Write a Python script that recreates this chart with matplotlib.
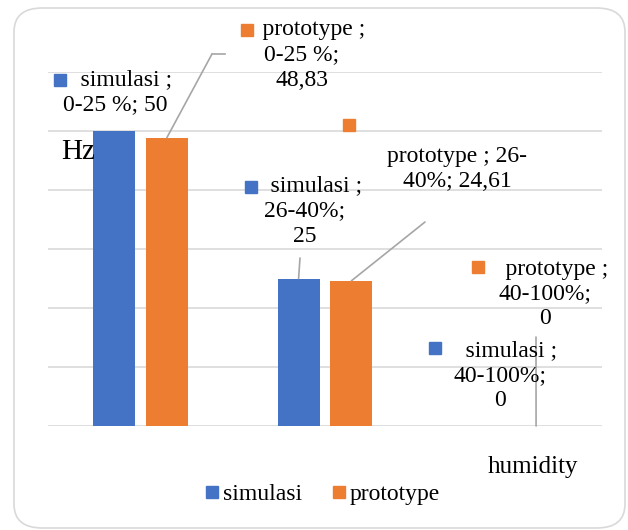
import matplotlib
matplotlib.use('Agg')
import matplotlib.pyplot as plt
from matplotlib.patches import Rectangle, FancyBboxPatch
from matplotlib.lines import Line2D
import numpy as np

categories = ['0-25 %', '26-40%', '40-100%']
simulasi = [50, 25, 0]
prototype = [48.83, 24.61, 0]

W, H = 628, 530
BLUE = '#4472C4'
ORANGE = '#ED7D31'
GRID = '#d9d9d9'
LEAD = '#a6a6a6'

plt.rcParams['font.family'] = ['Liberation Serif', 'DejaVu Serif']


def px(x, y):
    # pixel position -> figure fraction
    return (x / W, 1 - y / H)


fig = plt.figure(figsize=(W / 100, H / 100), dpi=100)
fig.patch.set_facecolor('white')

# rounded chart border
border = FancyBboxPatch((14 / W, 2 / H), 611 / W, 520 / H,
                        boxstyle='round,pad=0,rounding_size=0.045',
                        transform=fig.transFigure, facecolor='white',
                        edgecolor=GRID, linewidth=1.2, zorder=0)
fig.add_artist(border)

left, right = px(48, 0)[0], px(602, 0)[0]
bottom, top = px(0, 426)[1], px(0, 72)[1]
ax = fig.add_axes([left, bottom, right - left, top - bottom])
ax.set_facecolor('none')

x = np.arange(len(categories))
off = 0.143
bw = 0.227
ax.bar(x - off, simulasi, bw, color=BLUE, zorder=3, label='simulasi')
ax.bar(x + off, prototype, bw, color=ORANGE, zorder=3, label='prototype')

ax.set_xlim(-0.5, 2.5)
ax.set_ylim(0, 60)
ax.set_yticks(np.arange(0, 61, 10))
ax.yaxis.grid(True, color=GRID, linewidth=1.2, zorder=0)
ax.set_axisbelow(True)
ax.tick_params(left=False, bottom=False, labelleft=False, labelbottom=False)
for s in ax.spines.values():
    s.set_visible(False)

fs = 17


def label(text, xc, yc, sq=None, color=None):
    fig.text(*px(xc, yc), text, ha='center', va='center', fontsize=fs,
             linespacing=1.25)
    if sq is not None:
        fig.add_artist(Rectangle(px(sq[0], sq[1] + 12), 12 / W, 12 / H,
                                 transform=fig.transFigure, color=color,
                                 zorder=5))


def leader(xd, yd, xp, yp):
    ax.annotate('', xy=(xd, yd), xycoords='data', xytext=px(xp, yp),
                textcoords='figure fraction', annotation_clip=False,
                arrowprops=dict(arrowstyle='-', color=LEAD, lw=1.2,
                                shrinkA=0, shrinkB=0))


# data labels
label('    simulasi ;\n0-25 %; 50', 115, 92, sq=(54, 74), color=BLUE)
label('    prototype ;\n0-25 %;\n48,83', 302, 55, sq=(241, 24), color=ORANGE)
fig.add_artist(Line2D([212 / W, 225 / W], [1 - 54 / H, 1 - 54 / H],
                      transform=fig.transFigure, color=LEAD, lw=1.2))
leader(0 + off, prototype[0], 212, 54)
fig.add_artist(Rectangle(px(343, 131), 12 / W, 12 / H,
                         transform=fig.transFigure, color=ORANGE))

label('    simulasi ;\n26-40%;\n25', 305, 211, sq=(245, 181), color=BLUE)
leader(1 - off, simulasi[1], 300, 258)
label('prototype ; 26-\n40%; 24,61', 457, 169)
leader(1 + off, prototype[1], 425, 222)

label('    prototype ;\n40-100%;\n0', 545, 294, sq=(472, 261), color=ORANGE)
label('    simulasi ;\n40-100%;\n0', 500, 376, sq=(429, 342), color=BLUE)
leader(2 + off, prototype[2], 536, 337)

# axis titles
fig.text(*px(61, 152), 'Hz', ha='left', va='center', fontsize=21)
fig.text(*px(533, 467), 'humidity', ha='center', va='center', fontsize=18)

# legend
handles = [Line2D([], [], marker='s', ls='', color=c, markersize=9)
           for c in (BLUE, ORANGE)]
ax.legend(handles, ['simulasi', 'prototype'], loc='center',
          bbox_to_anchor=px(323, 494), bbox_transform=fig.transFigure,
          ncol=2, frameon=False, fontsize=17, handlelength=0.5,
          handletextpad=0.2, columnspacing=1.3)

fig.savefig('out.png', dpi=100)
